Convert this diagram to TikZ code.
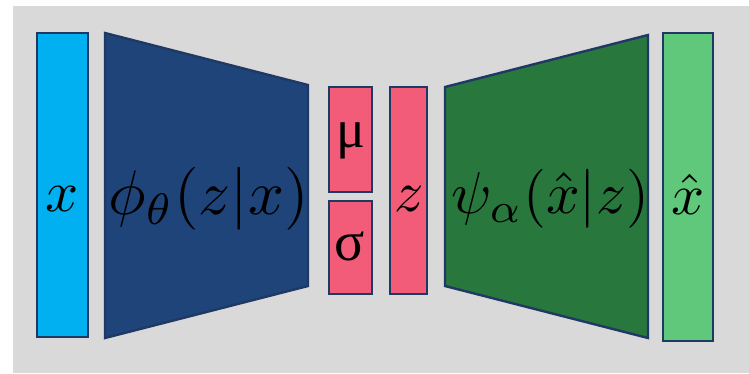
\documentclass[tikz,border=0pt]{standalone}
\usepackage{fontspec}
\newfontfamily\grk{Liberation Serif}
\definecolor{bg}{RGB}{217,217,217}
\definecolor{edge}{RGB}{31,56,100}
\definecolor{skyb}{RGB}{0,176,240}
\definecolor{encb}{RGB}{31,68,121}
\definecolor{pinkc}{RGB}{242,92,120}
\definecolor{decg}{RGB}{40,120,62}
\definecolor{outg}{RGB}{96,200,122}
\newcommand{\hugemath}[2][5.8]{\scalebox{#1}{$#2$}}
\begin{document}
\begin{tikzpicture}[x=1pt,y=-1pt,
  blk/.style={draw=edge,line width=2.4pt,line join=miter},
  lbl/.style={inner sep=0pt},
  glbl/.style={inner sep=0pt}]
\useasboundingbox (0,0) rectangle (749,373);
\fill[bg] (13,6) rectangle (749,373);
% input x
\draw[blk,fill=skyb] (37,33) rectangle (88,337);
\node[lbl] (xin) at (62,199) {\hugemath{x}};
% encoder
\draw[blk,fill=encb] (105,33) -- (308,85) -- (308,286) -- (105,338) -- cycle;
\node[lbl,anchor=east] (enc) at (309,199) {\hugemath[6.3]{\phi_\theta(z|x)}};
% mu and sigma
\draw[blk,fill=pinkc] (329,87) rectangle (372,192);
\node[glbl] (mu) at (351,141) {\scalebox{5.4}{\grk μ}};
\draw[blk,fill=pinkc] (329,201) rectangle (372,294);
\node[glbl] (sigma) at (350,246) {\scalebox{5.6}{\grk σ}};
% z
\draw[blk,fill=pinkc] (390,87) rectangle (427,294);
\node[lbl] (zz) at (409,199) {\hugemath{z}};
% decoder
\draw[blk,fill=decg] (445,87) -- (648,35) -- (648,338) -- (445,286) -- cycle;
\node[lbl,anchor=west] (dec) at (451,199) {\hugemath[5.9]{\psi_\alpha(\hat{x}|z)}};
% output
\draw[blk,fill=outg] (663,33) rectangle (713,341);
\node[lbl] (xout) at (688,194) {\hugemath{\hat{x}}};
\end{tikzpicture}
\end{document}
